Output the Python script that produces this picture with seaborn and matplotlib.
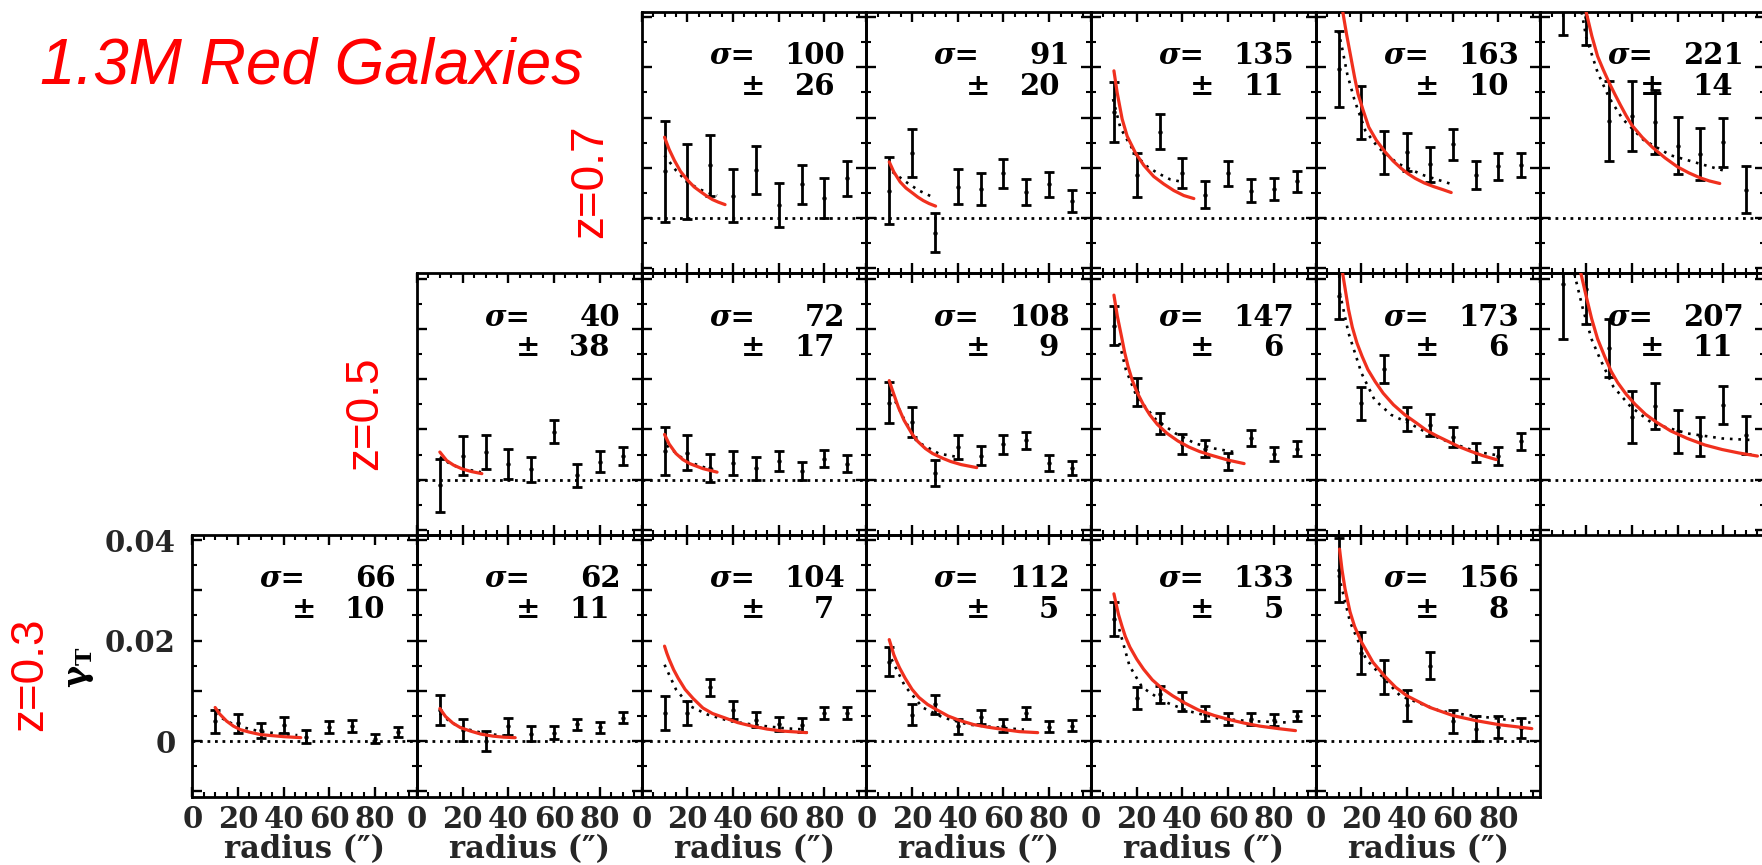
import matplotlib
matplotlib.use("Agg")
import matplotlib.pyplot as plt
import seaborn as sns
import pandas as pd
from matplotlib.ticker import MultipleLocator, FixedLocator, FuncFormatter

# ---------------- data ----------------
RADII = [10, 20, 30, 40, 50, 60, 70, 80, 90]

# z = 0.3 row
SIGMA_Z03 = [66, 62, 104, 112, 133, 156]
SIGMA_ERR_Z03 = [10, 11, 7, 5, 5, 8]
GAMMA_Z03 = [
    [0.0040, 0.0036, 0.0022, 0.0032, 0.0009, 0.0028, 0.0031, 0.0005, 0.0018],
    [0.0062, 0.0022, 0.0000, 0.0030, 0.0015, 0.0017, 0.0034, 0.0028, 0.0047],
    [0.0056, 0.0056, 0.0107, 0.0062, 0.0043, 0.0034, 0.0032, 0.0056, 0.0056],
    [0.0158, 0.0053, 0.0073, 0.0030, 0.0049, 0.0031, 0.0056, 0.0029, 0.0031],
    [0.0243, 0.0086, 0.0093, 0.0079, 0.0055, 0.0045, 0.0045, 0.0042, 0.0051],
    [0.0341, 0.0175, 0.0128, 0.0071, 0.0150, 0.0040, 0.0025, 0.0029, 0.0027],
]
GAMMA_ERR_Z03 = [
    [0.0023, 0.0019, 0.0015, 0.0016, 0.0013, 0.0012, 0.0012, 0.0009, 0.0010],
    [0.0030, 0.0022, 0.0020, 0.0017, 0.0015, 0.0013, 0.0011, 0.0011, 0.0011],
    [0.0033, 0.0024, 0.0017, 0.0017, 0.0015, 0.0014, 0.0014, 0.0012, 0.0011],
    [0.0029, 0.0021, 0.0018, 0.0015, 0.0014, 0.0013, 0.0011, 0.0011, 0.0011],
    [0.0033, 0.0022, 0.0017, 0.0018, 0.0015, 0.0012, 0.0012, 0.0012, 0.0010],
    [0.0064, 0.0042, 0.0034, 0.0031, 0.0027, 0.0023, 0.0025, 0.0022, 0.0020],
]
FIT_R_Z03 = [
    [10, 12, 15, 18, 21, 25, 30, 35, 40, 47.5],
    [10, 12.5, 15.7, 19, 23.5, 28, 33.3, 38, 43],
    [10, 11, 12, 14, 16, 19, 22.5, 26.8, 31, 36.6, 42, 48.3, 55, 62, 72.2],
    [10, 11, 12, 13, 14.5, 17, 20, 23, 26.8, 31, 35.8, 41, 47, 53, 60.4, 67, 75],
    [10, 11, 12, 13.5, 15, 17, 20, 23, 26.8, 31, 35.8, 41, 47, 54, 60.4, 67, 73.8, 82, 89.5],
    [10.4, 11.5, 12.8, 15, 17, 20, 25, 30, 35, 40, 50, 60, 70, 80, 94.6],
]
FIT_G_Z03 = [
    [0.0067, 0.0054, 0.0040, 0.0030, 0.0023, 0.0018, 0.0013, 0.0011, 0.0009, 0.0007],
    [0.0065, 0.0049, 0.0036, 0.0027, 0.0020, 0.0014, 0.0010, 0.0008, 0.0007],
    [0.0189, 0.0175, 0.0163, 0.0142, 0.0125, 0.0103, 0.0085, 0.0066, 0.0055, 0.0046,
     0.0037, 0.0030, 0.0024, 0.0020, 0.0017],
    [0.0202, 0.0187, 0.0172, 0.0161, 0.0146, 0.0125, 0.0103, 0.0087, 0.0073, 0.0062,
     0.0050, 0.0041, 0.0033, 0.0028, 0.0023, 0.0019, 0.0017],
    [0.0293, 0.0272, 0.0252, 0.0229, 0.0208, 0.0187, 0.0163, 0.0143, 0.0122, 0.0105,
     0.0090, 0.0076, 0.0062, 0.0051, 0.0043, 0.0036, 0.0030, 0.0025, 0.0021],
    [0.0382, 0.0340, 0.0303, 0.0257, 0.0228, 0.0197, 0.0157, 0.0130, 0.0107, 0.0090,
     0.0067, 0.0051, 0.0041, 0.0033, 0.0025],
]
MODEL_R_Z03 = [
    [10, 15, 20, 30, 40, 46],
    [10, 15, 20, 30, 40, 42],
    [10, 15, 21, 28.8, 38.5, 50, 62, 71.8],
    [11, 16.8, 24.6, 33.6, 44.7, 58, 69],
    [12.3, 16.8, 22.4, 31.3, 42.5, 55.9, 69.3, 87],
    [10, 15, 22, 37, 54.5, 65, 94],
]
MODEL_G_Z03 = [
    [0.0055, 0.0040, 0.0030, 0.0019, 0.0014, 0.0012],
    [0.0055, 0.0037, 0.0026, 0.0015, 0.0010, 0.0009],
    [0.0152, 0.0103, 0.0070, 0.0053, 0.0040, 0.0032, 0.0026, 0.0023],
    [0.0163, 0.0110, 0.0067, 0.0047, 0.0033, 0.0027, 0.0023],
    [0.0223, 0.0150, 0.0107, 0.0080, 0.0060, 0.0045, 0.0040, 0.0037],
    [0.0330, 0.0237, 0.0163, 0.0090, 0.0060, 0.0053, 0.0037],
]

# z = 0.5 row
SIGMA_Z05 = [40, 72, 108, 147, 173, 207]
SIGMA_ERR_Z05 = [38, 17, 9, 6, 6, 11]
GAMMA_Z05 = [
    [-0.0011, 0.0048, 0.0055, 0.0032, 0.0021, 0.0095, 0.0009, 0.0036, 0.0047],
    [0.0057, 0.0054, 0.0024, 0.0033, 0.0023, 0.0037, 0.0018, 0.0042, 0.0032],
    [0.0153, 0.0115, 0.0013, 0.0065, 0.0048, 0.0070, 0.0078, 0.0034, 0.0023],
    [0.0306, 0.0175, 0.0112, 0.0071, 0.0062, 0.0036, 0.0083, 0.0051, 0.0062],
    [0.0365, 0.0152, 0.0220, 0.0121, 0.0109, 0.0085, 0.0054, 0.0047, 0.0076],
    [0.0390, 0.0380, 0.0262, 0.0124, 0.0146, 0.0096, 0.0086, 0.0149, 0.0089],
]
GAMMA_ERR_Z05 = [
    [0.0053, 0.0039, 0.0033, 0.0030, 0.0025, 0.0023, 0.0023, 0.0021, 0.0018],
    [0.0047, 0.0035, 0.0028, 0.0024, 0.0023, 0.0020, 0.0018, 0.0017, 0.0017],
    [0.0041, 0.0030, 0.0026, 0.0023, 0.0019, 0.0018, 0.0017, 0.0016, 0.0014],
    [0.0039, 0.0028, 0.0021, 0.0020, 0.0017, 0.0017, 0.0016, 0.0014, 0.0015],
    [0.0045, 0.0033, 0.0027, 0.0024, 0.0022, 0.0020, 0.0018, 0.0017, 0.0016],
    [0.0110, 0.0070, 0.0058, 0.0052, 0.0046, 0.0043, 0.0039, 0.0038, 0.0037],
]
FIT_R_Z05 = [
    [10, 13, 16, 20, 24, 28.4],
    [10, 12, 15, 18, 21, 26.8, 33],
    [10, 11, 12, 14, 16.5, 20, 22.5, 25.8, 29, 33.7, 37, 41.5, 48.3],
    [10, 11.5, 13.3, 14.7, 16.2, 18, 20, 22.8, 25.7, 29, 33.3, 38, 42.8, 47.5, 52.3, 59.9, 67],
    [10, 11.8, 14.3, 16, 18, 20.3, 22.8, 26, 29.5, 34, 39, 44, 48.5, 53, 58, 62.5, 67.5, 73, 79],
    [15, 17.7, 20, 22.4, 25, 28.1, 31, 33.8, 37.5, 41.4, 46, 50.9, 57, 64.3, 72, 79.5, 87, 95],
]
FIT_G_Z05 = [
    [0.0055, 0.0038, 0.0029, 0.0021, 0.0016, 0.0012],
    [0.0090, 0.0071, 0.0052, 0.0040, 0.0032, 0.0022, 0.0015],
    [0.0197, 0.0183, 0.0170, 0.0144, 0.0118, 0.0091, 0.0076, 0.0062, 0.0052, 0.0042,
     0.0036, 0.0030, 0.0024],
    [0.0367, 0.0325, 0.0285, 0.0253, 0.0225, 0.0198, 0.0175, 0.0150, 0.0129, 0.0110,
     0.0092, 0.0077, 0.0065, 0.0056, 0.0049, 0.0039, 0.0032],
    [0.0480, 0.0409, 0.0339, 0.0303, 0.0272, 0.0245, 0.0219, 0.0195, 0.0172, 0.0149,
     0.0129, 0.0113, 0.0098, 0.0087, 0.0076, 0.0066, 0.0057, 0.0048, 0.0040],
    [0.0470, 0.0410, 0.0365, 0.0320, 0.0280, 0.0245, 0.0215, 0.0193, 0.0170, 0.0150,
     0.0130, 0.0114, 0.0097, 0.0082, 0.0069, 0.0060, 0.0053, 0.0047],
]
MODEL_R_Z05 = [
    [10, 15, 20, 28],
    [11, 19, 29, 32],
    [11, 16, 22, 31.7, 40],
    [12.4, 15.2, 20, 28.5, 37, 45.6, 54, 62.7],
    [10.5, 14.3, 20, 25.7, 33, 41, 50.5, 60, 71, 79],
    [14.8, 18.6, 22.4, 26.2, 31.9, 39.5, 49, 64.3, 79.5, 91.8],
]
MODEL_G_Z05 = [
    [0.0045, 0.0030, 0.0022, 0.0015],
    [0.0068, 0.0038, 0.0022, 0.0019],
    [0.0171, 0.0125, 0.0076, 0.0052, 0.0045],
    [0.0272, 0.0219, 0.0165, 0.0119, 0.0092, 0.0072, 0.0062, 0.0055],
    [0.0372, 0.0292, 0.0212, 0.0159, 0.0129, 0.0112, 0.0089, 0.0072, 0.0055, 0.0049],
    [0.0410, 0.0339, 0.0279, 0.0239, 0.0185, 0.0145, 0.0112, 0.0092, 0.0082, 0.0079],
]

# z = 0.7 row
SIGMA_Z07 = [100, 91, 135, 163, 221]
SIGMA_ERR_Z07 = [26, 20, 11, 10, 14]
GAMMA_Z07 = [
    [0.0093, 0.0073, 0.0105, 0.0045, 0.0096, 0.0026, 0.0067, 0.0040, 0.0079],
    [0.0055, 0.0129, -0.0029, 0.0063, 0.0058, 0.0089, 0.0052, 0.0067, 0.0035],
    [0.0211, 0.0086, 0.0172, 0.0090, 0.0047, 0.0089, 0.0055, 0.0058, 0.0073],
    [0.0297, 0.0210, 0.0130, 0.0131, 0.0107, 0.0147, 0.0086, 0.0103, 0.0105],
    [0.0460, 0.0400, 0.0193, 0.0203, 0.0191, 0.0144, 0.0128, 0.0151, 0.0057],
]
GAMMA_ERR_Z07 = [
    [0.0101, 0.0074, 0.0060, 0.0052, 0.0047, 0.0043, 0.0039, 0.0039, 0.0035],
    [0.0066, 0.0048, 0.0039, 0.0034, 0.0031, 0.0029, 0.0025, 0.0025, 0.0022],
    [0.0059, 0.0043, 0.0035, 0.0030, 0.0027, 0.0025, 0.0022, 0.0022, 0.0021],
    [0.0075, 0.0052, 0.0043, 0.0038, 0.0035, 0.0031, 0.0028, 0.0027, 0.0024],
    [0.0096, 0.0055, 0.0080, 0.0070, 0.0063, 0.0057, 0.0052, 0.0049, 0.0046],
]
FIT_R_Z07 = [
    [10, 12, 14.3, 17, 20.2, 23, 26, 28.5, 31, 33.5, 36.5],
    [10, 12, 14.8, 17.3, 20.2, 22.5, 24.9, 27.5, 30.3],
    [10, 11.4, 13.6, 15.8, 19.4, 23.1, 27.4, 31.8, 36.2, 40.6, 45],
    [10, 11.9, 13.5, 15.4, 17, 18.5, 20.7, 23.2, 26.5, 30.3, 33.8, 37.4, 40.5, 43.6,
     47.5, 51.5, 55.5, 59.3],
    [17, 20, 22.5, 25, 27.5, 30, 32.5, 35, 37.5, 40, 44.5, 49, 54.5, 60, 65, 70, 74, 78.5],
]
FIT_G_Z07 = [
    [0.0161, 0.0137, 0.0115, 0.0093, 0.0075, 0.0062, 0.0052, 0.0044, 0.0037, 0.0032, 0.0027],
    [0.0112, 0.0092, 0.0072, 0.0060, 0.0050, 0.0042, 0.0035, 0.0029, 0.0024],
    [0.0293, 0.0250, 0.0197, 0.0163, 0.0130, 0.0105, 0.0083, 0.0068, 0.0055, 0.0045, 0.0039],
    [0.0470, 0.0408, 0.0365, 0.0319, 0.0280, 0.0247, 0.0215, 0.0181, 0.0155, 0.0132,
     0.0114, 0.0099, 0.0088, 0.0079, 0.0070, 0.0063, 0.0057, 0.0051],
    [0.0500, 0.0410, 0.0362, 0.0322, 0.0295, 0.0270, 0.0247, 0.0225, 0.0204, 0.0185,
     0.0161, 0.0141, 0.0120, 0.0102, 0.0090, 0.0080, 0.0074, 0.0069],
]
MODEL_R_Z07 = [
    [10, 15, 20, 25, 30, 33],
    [11.4, 18, 23, 29],
    [9.6, 12.8, 16.5, 20, 24.5, 29, 34.7, 39],
    [9.9, 11.5, 13.8, 17, 21.7, 27.2, 35.8, 46.8, 58.6],
    [18, 20, 25, 30, 36, 45, 57, 70, 80],
]
MODEL_G_Z07 = [
    [0.0125, 0.0095, 0.0072, 0.0058, 0.0049, 0.0045],
    [0.0092, 0.0070, 0.0055, 0.0042],
    [0.0237, 0.0180, 0.0150, 0.0123, 0.0103, 0.0090, 0.0077, 0.0073],
    [0.0372, 0.0339, 0.0286, 0.0234, 0.0174, 0.0141, 0.0109, 0.0086, 0.0069],
    [0.0410, 0.0360, 0.0290, 0.0240, 0.0197, 0.0156, 0.0125, 0.0108, 0.0095],
]

ROW_LABELS = ["z=0.7", "z=0.5", "z=0.3"]
TITLE = "1.3M Red Galaxies"
X_TICKS = [0, 20, 40, 60, 80]
Y_TICK_LABELS = {0.0: "0", 0.02: "0.02", 0.04: "0.04"}

# ---------------- layout / style ----------------
FIG_W, FIG_H, DPI = 1762, 865, 100
COL_X0, COL_W = 192.3, 224.7
ROW_TOP = [12.0, 273.5, 535.0]
ROW_H = 261.5
XLIM = (0, 98.4)
YLIM = (-0.011, 0.041)
RED = "#f0301e"

sns.set_theme(style="white")
plt.rcParams["font.family"] = ["DejaVu Serif"]
plt.rcParams["mathtext.fontset"] = "dejavuserif"
plt.rcParams["axes.linewidth"] = 2.0
plt.rcParams["axes.edgecolor"] = "black"

fig = plt.figure(figsize=(FIG_W / DPI, FIG_H / DPI), dpi=DPI)
fig.patch.set_facecolor("white")

ROWS = [
    (0, [2, 3, 4, 5, 6], SIGMA_Z07, SIGMA_ERR_Z07, GAMMA_Z07, GAMMA_ERR_Z07,
     FIT_R_Z07, FIT_G_Z07, MODEL_R_Z07, MODEL_G_Z07),
    (1, [1, 2, 3, 4, 5, 6], SIGMA_Z05, SIGMA_ERR_Z05, GAMMA_Z05, GAMMA_ERR_Z05,
     FIT_R_Z05, FIT_G_Z05, MODEL_R_Z05, MODEL_G_Z05),
    (2, [0, 1, 2, 3, 4, 5], SIGMA_Z03, SIGMA_ERR_Z03, GAMMA_Z03, GAMMA_ERR_Z03,
     FIT_R_Z03, FIT_G_Z03, MODEL_R_Z03, MODEL_G_Z03),
]

TXT = dict(fontsize=21, fontweight="bold", color="black", family="DejaVu Serif")
LINE1_Y, LINE2_Y = 0.800, 0.684

for (row, cols, sig, sige, gam, game, fr, fg, mr, mg) in ROWS:
    for i, col in enumerate(cols):
        left = (COL_X0 + col * COL_W) / FIG_W
        bottom = 1 - (ROW_TOP[row] + ROW_H) / FIG_H
        ax = fig.add_axes([left, bottom, COL_W / FIG_W, ROW_H / FIG_H])
        ax.set_facecolor("none")
        ax.set_xlim(*XLIM)
        ax.set_ylim(*YLIM)

        # zero line
        ax.axhline(0, color="black", lw=2.0, ls=(0, (1, 1.7)), zorder=1)

        # model (dotted) and fit (red) curves
        dm = pd.DataFrame({"r": mr[i], "g": mg[i]})
        sns.lineplot(data=dm, x="r", y="g", ax=ax, color="black", lw=1.9,
                     linestyle=(0, (1, 2.2)), sort=False, estimator=None,
                     legend=False, zorder=2)
        df = pd.DataFrame({"r": fr[i], "g": fg[i]})
        sns.lineplot(data=df, x="r", y="g", ax=ax, color=RED, lw=2.3,
                     sort=False, estimator=None, legend=False, zorder=5)

        # measurements
        dd = pd.DataFrame({"r": RADII, "g": gam[i], "e": game[i]})
        ax.errorbar(dd["r"], dd["g"], yerr=dd["e"], fmt="none", ecolor="black",
                    elinewidth=2.0, capsize=3.8, capthick=2.0, zorder=3)
        sns.scatterplot(data=dd, x="r", y="g", ax=ax, color="black", s=10,
                        linewidth=0, zorder=4, legend=False)

        # sigma annotation
        ax.text(0.30, LINE1_Y, "σ=", transform=ax.transAxes, ha="left",
                va="baseline", fontstyle="italic", **TXT)
        ax.text(0.905, LINE1_Y, f"{sig[i]}", transform=ax.transAxes, ha="right",
                va="baseline", **TXT)
        ax.text(0.496, LINE2_Y, "±", transform=ax.transAxes, ha="center",
                va="baseline", **TXT)
        ax.text(0.858, LINE2_Y, f"{sige[i]}", transform=ax.transAxes, ha="right",
                va="baseline", **TXT)

        # ticks
        ax.xaxis.set_major_locator(FixedLocator(X_TICKS))
        ax.xaxis.set_minor_locator(MultipleLocator(5))
        ax.yaxis.set_major_locator(MultipleLocator(0.01))
        ax.yaxis.set_minor_locator(MultipleLocator(0.005))
        ax.tick_params(which="both", direction="in", top=True, right=True,
                       bottom=True, left=True, color="black")
        ax.tick_params(which="major", length=7.5, width=1.7)
        ax.tick_params(which="minor", length=3.5, width=1.5)
        ax.set_xlabel("")
        ax.set_ylabel("")

        if row == 2:
            ax.tick_params(axis="x", labelbottom=True, labelsize=21, pad=6)
            ax.xaxis.set_major_formatter(FuncFormatter(lambda v, p: f"{int(round(v))}"))
            for t in ax.get_xticklabels():
                t.set_fontweight("bold")
            ax.set_xlabel("radius (″)", fontsize=22, fontweight="bold", labelpad=0)
        else:
            ax.tick_params(axis="x", labelbottom=False)

        if row == 2 and col == 0:
            ax.yaxis.set_major_formatter(FuncFormatter(
                lambda v, p: next((s for k, s in Y_TICK_LABELS.items()
                                   if abs(v - k) < 1e-6), "")))
            ax.tick_params(axis="y", labelleft=True, labelsize=21, pad=12)
            for t in ax.get_yticklabels():
                t.set_fontweight("bold")
        else:
            ax.tick_params(axis="y", labelleft=False)

        for sp in ax.spines.values():
            sp.set_linewidth(2.0)
            sp.set_color("black")

# y-axis label
fig.text(80 / FIG_W, 1 - 667 / FIG_H, r"$\mathbf{\gamma_T}$", rotation=90,
         ha="center", va="center", fontsize=24, color="black")

# row labels (redshift)
ROW_LABEL_POS = [(590, 181), (365, 413), (30, 674)]
for lab, (px, py) in zip(ROW_LABELS, ROW_LABEL_POS):
    fig.text(px / FIG_W, 1 - py / FIG_H, lab, rotation=90, ha="center",
             va="center", fontsize=33, color="red", family="Liberation Sans")

# title
fig.text(40 / FIG_W, 1 - 83 / FIG_H, TITLE, ha="left", va="baseline",
         fontsize=46, color="red", fontstyle="italic", family="Liberation Sans")

fig.savefig("out.png", dpi=DPI, facecolor="white")
